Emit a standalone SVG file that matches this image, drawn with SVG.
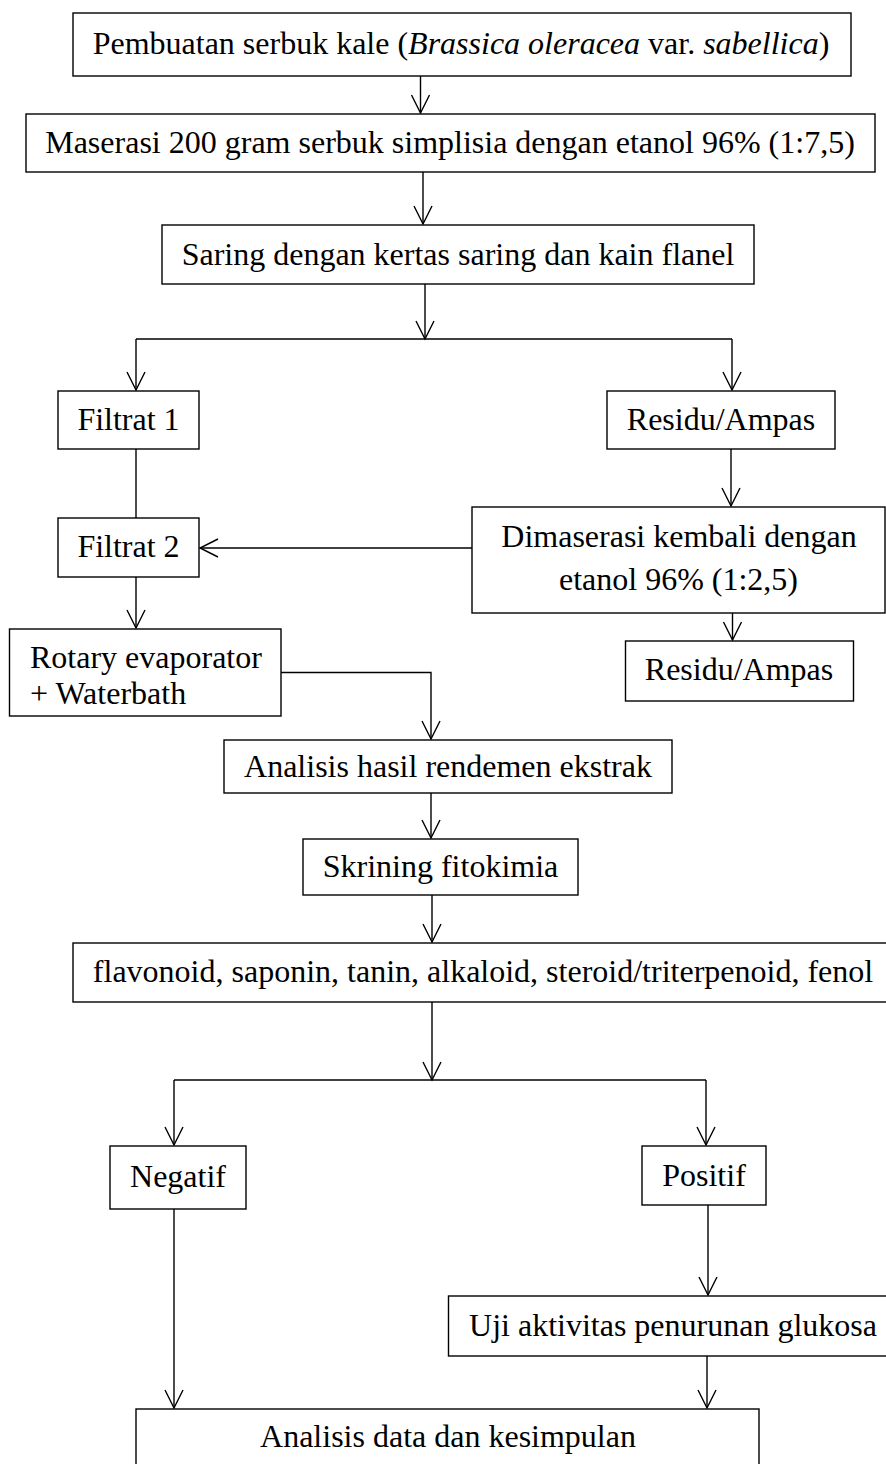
<svg xmlns="http://www.w3.org/2000/svg" width="886" height="1464" viewBox="0 0 886 1464">
<style>
.box{fill:#fff;stroke:#000;stroke-width:1.4}
.t{font-family:"Liberation Serif","Times New Roman",serif;font-size:32px;fill:#000;text-anchor:middle}
.ts{font-family:"Liberation Serif","Times New Roman",serif;font-size:32px;fill:#000}
.c{fill:none;stroke:#000;stroke-width:1.4}
</style>
<defs>
<marker id="ah" viewBox="-20 -11 22 22" refX="0" refY="0" markerWidth="22" markerHeight="22" markerUnits="userSpaceOnUse" orient="auto">
<path d="M-18,-9 L0,0 L-18,9" fill="none" stroke="#000" stroke-width="1.4"/>
</marker>
</defs>
<rect width="886" height="1464" fill="#fff"/>
<g id="connectors">
<line class="c" x1="420.5" y1="76" x2="420.5" y2="113" marker-end="url(#ah)"/>
<line class="c" x1="423" y1="172" x2="423" y2="224" marker-end="url(#ah)"/>
<line class="c" x1="425" y1="284" x2="425" y2="339" marker-end="url(#ah)"/>
<line class="c" x1="136" y1="339" x2="732" y2="339"/>
<line class="c" x1="136" y1="339" x2="136" y2="390" marker-end="url(#ah)"/>
<line class="c" x1="732" y1="339" x2="732" y2="390" marker-end="url(#ah)"/>
<line class="c" x1="136" y1="449" x2="136" y2="518"/>
<line class="c" x1="731" y1="449" x2="731" y2="506" marker-end="url(#ah)"/>
<line class="c" x1="472" y1="548" x2="200" y2="548" marker-end="url(#ah)"/>
<line class="c" x1="136" y1="577" x2="136" y2="628" marker-end="url(#ah)"/>
<line class="c" x1="732.5" y1="613" x2="732.5" y2="640" marker-end="url(#ah)"/>
<polyline class="c" points="281,672.5 431,672.5 431,739" marker-end="url(#ah)"/>
<line class="c" x1="431" y1="793" x2="431" y2="838" marker-end="url(#ah)"/>
<line class="c" x1="432" y1="895" x2="432" y2="942" marker-end="url(#ah)"/>
<line class="c" x1="432" y1="1002" x2="432" y2="1080" marker-end="url(#ah)"/>
<line class="c" x1="174" y1="1080" x2="706" y2="1080"/>
<line class="c" x1="174" y1="1080" x2="174" y2="1145" marker-end="url(#ah)"/>
<line class="c" x1="706" y1="1080" x2="706" y2="1145" marker-end="url(#ah)"/>
<line class="c" x1="174" y1="1209" x2="174" y2="1408" marker-end="url(#ah)"/>
<line class="c" x1="708" y1="1205" x2="708" y2="1295" marker-end="url(#ah)"/>
<line class="c" x1="707" y1="1356" x2="707" y2="1408" marker-end="url(#ah)"/>
</g>
<g id="n1"><rect class="box" x="73" y="13" width="778" height="63"/>
<text class="t" x="461" y="54">Pembuatan serbuk kale (<tspan font-style="italic">Brassica oleracea</tspan> var. <tspan font-style="italic">sabellica</tspan>)</text></g>
<g id="n2"><rect class="box" x="26" y="114" width="849" height="58"/>
<text class="t" x="450" y="153">Maserasi 200 gram serbuk simplisia dengan etanol 96% (1:7,5)</text></g>
<g id="n3"><rect class="box" x="162" y="225" width="592" height="59"/>
<text class="t" x="458" y="265">Saring dengan kertas saring dan kain flanel</text></g>
<g id="n4"><rect class="box" x="58" y="391" width="141" height="58"/>
<text class="t" x="128.5" y="430">Filtrat 1</text></g>
<g id="n5"><rect class="box" x="607" y="391" width="228" height="58"/>
<text class="t" x="721" y="430">Residu/Ampas</text></g>
<g id="n6"><rect class="box" x="58" y="518" width="141" height="59"/>
<text class="t" x="128.5" y="557">Filtrat 2</text></g>
<g id="n7"><rect class="box" x="472" y="507" width="413" height="106"/>
<text class="t" x="679" y="547">Dimaserasi kembali dengan</text>
<text class="t" x="678.5" y="590">etanol 96% (1:2,5)</text></g>
<g id="n8"><rect class="box" x="9.5" y="629" width="271.5" height="87"/>
<text class="ts" x="30" y="668">Rotary evaporator</text>
<text class="ts" x="30" y="704">+ Waterbath</text></g>
<g id="n9"><rect class="box" x="625.5" y="641" width="228" height="60"/>
<text class="t" x="739" y="680">Residu/Ampas</text></g>
<g id="n10"><rect class="box" x="224" y="740" width="448" height="53"/>
<text class="t" x="448" y="777">Analisis hasil rendemen ekstrak</text></g>
<g id="n11"><rect class="box" x="303" y="839" width="275" height="56"/>
<text class="t" x="440.5" y="877">Skrining fitokimia</text></g>
<g id="n12"><rect class="box" x="73" y="943" width="820" height="59"/>
<text class="t" x="483" y="982">flavonoid, saponin, tanin, alkaloid, steroid/triterpenoid, fenol</text></g>
<g id="n13"><rect class="box" x="110" y="1146" width="136" height="63"/>
<text class="t" x="178" y="1187">Negatif</text></g>
<g id="n14"><rect class="box" x="642" y="1146" width="124" height="59"/>
<text class="t" x="704" y="1186">Positif</text></g>
<g id="n15"><rect class="box" x="448.5" y="1296" width="445" height="60"/>
<text class="t" x="673" y="1336">Uji aktivitas penurunan glukosa</text></g>
<g id="n16"><rect class="box" x="136" y="1409" width="623" height="70"/>
<text class="t" x="448" y="1447">Analisis data dan kesimpulan</text></g>
</svg>
